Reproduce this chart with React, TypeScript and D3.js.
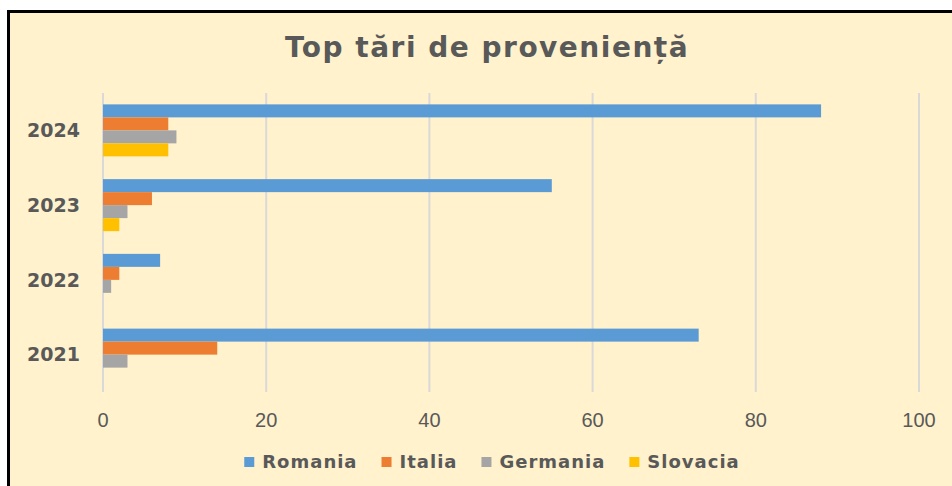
import React, { useEffect, useRef } from "react";
import * as d3 from "d3";

const years = ["2024", "2023", "2022", "2021"];
const series = ["Romania", "Italia", "Germania", "Slovacia"];
const colors = ["#5B9BD5", "#ED7D31", "#A5A5A5", "#FFC000"];
const romania = [88, 55, 7, 73];
const italia = [8, 6, 2, 14];
const germania = [9, 3, 1, 3];
const slovacia = [8, 2, 0, 0];
const xTicks = [0, 20, 40, 60, 80, 100];
const title = "Top tări de proveniență";

const App = () => {
  const ref = useRef<SVGSVGElement>(null);

  useEffect(() => {
    document.body.style.margin = "0";
    const width = 952;
    const height = 486;
    const margin = { top: 93, right: 33, bottom: 94, left: 103 };
    const values = [romania, italia, germania, slovacia];

    const svg = d3.select(ref.current);
    svg.selectAll("*").remove();

    // frame
    svg
      .append("rect")
      .attr("x", 8.5)
      .attr("y", 11.5)
      .attr("width", 980)
      .attr("height", 520)
      .attr("fill", "#FFF2CC")
      .attr("stroke", "#000")
      .attr("stroke-width", 3);

    const x = d3
      .scaleLinear()
      .domain([0, 100])
      .range([margin.left, width - margin.right]);

    const y = d3
      .scaleBand()
      .domain(years)
      .range([margin.top, height - margin.bottom])
      .paddingInner(0)
      .paddingOuter(0);

    const yInner = d3
      .scaleBand()
      .domain(series)
      .range([0, y.bandwidth()])
      .paddingInner(0)
      .paddingOuter(0.875);

    // gridlines
    svg
      .append("g")
      .selectAll("line")
      .data(xTicks)
      .join("line")
      .attr("x1", (d) => x(d))
      .attr("x2", (d) => x(d))
      .attr("y1", margin.top)
      .attr("y2", height - margin.bottom)
      .attr("stroke", "#D9D9D9")
      .attr("stroke-width", 2);

    // bars
    series.forEach((s, si) => {
      svg
        .append("g")
        .attr("fill", colors[si])
        .selectAll("rect")
        .data(years)
        .join("rect")
        .attr("x", x(0))
        .attr("y", (yr) => (y(yr) ?? 0) + (yInner(s) ?? 0))
        .attr("width", (yr, i) => x(values[si][i]) - x(0))
        .attr("height", yInner.bandwidth());
    });

    // x tick labels
    svg
      .append("g")
      .selectAll("text")
      .data(xTicks)
      .join("text")
      .attr("x", (d) => x(d))
      .attr("y", 427)
      .attr("text-anchor", "middle")
      .attr("font-family", "'Liberation Sans Narrow', 'Liberation Sans', sans-serif")
      .attr("font-size", 20)
      .attr("fill", "#595959")
      .text((d) => d);

    // y labels
    svg
      .append("g")
      .selectAll("text")
      .data(years)
      .join("text")
      .attr("x", 80)
      .attr("y", (d) => (y(d) ?? 0) + y.bandwidth() / 2)
      .attr("dy", "0.36em")
      .attr("text-anchor", "end")
      .attr("font-family", "'DejaVu Sans', sans-serif")
      .attr("font-weight", "bold")
      .attr("font-size", 19)
      .attr("fill", "#595959")
      .text((d) => d);

    // title
    svg
      .append("text")
      .attr("x", 487)
      .attr("y", 57)
      .attr("text-anchor", "middle")
      .attr("font-family", "'DejaVu Sans', sans-serif")
      .attr("font-weight", "bold")
      .attr("font-size", 28)
      .attr("letter-spacing", 1.5)
      .attr("fill", "#595959")
      .text(title);

    // legend
    const legend = svg.append("g");
    const items = series.map((s, i) => {
      const g = legend.append("g");
      g.append("rect")
        .attr("x", 0)
        .attr("y", -5)
        .attr("width", 10)
        .attr("height", 10)
        .attr("fill", colors[i]);
      const t = g
        .append("text")
        .attr("x", 18)
        .attr("dy", "0.36em")
        .attr("font-family", "'DejaVu Sans', sans-serif")
        .attr("font-weight", "bold")
        .attr("font-size", 18)
        .attr("letter-spacing", 1)
        .attr("fill", "#595959")
        .text(s);
      const w = 18 + (t.node() as SVGTextElement).getComputedTextLength();
      return { g, w };
    });
    const gap = 24;
    const total = d3.sum(items, (d) => d.w) + gap * (items.length - 1);
    let cx = 492 - total / 2;
    items.forEach((it) => {
      it.g.attr("transform", `translate(${cx},462)`);
      cx += it.w + gap;
    });
  }, []);

  return (
    <svg
      ref={ref}
      width={952}
      height={486}
      style={{ display: "block", background: "#fff" }}
    />
  );
};

export default App;
